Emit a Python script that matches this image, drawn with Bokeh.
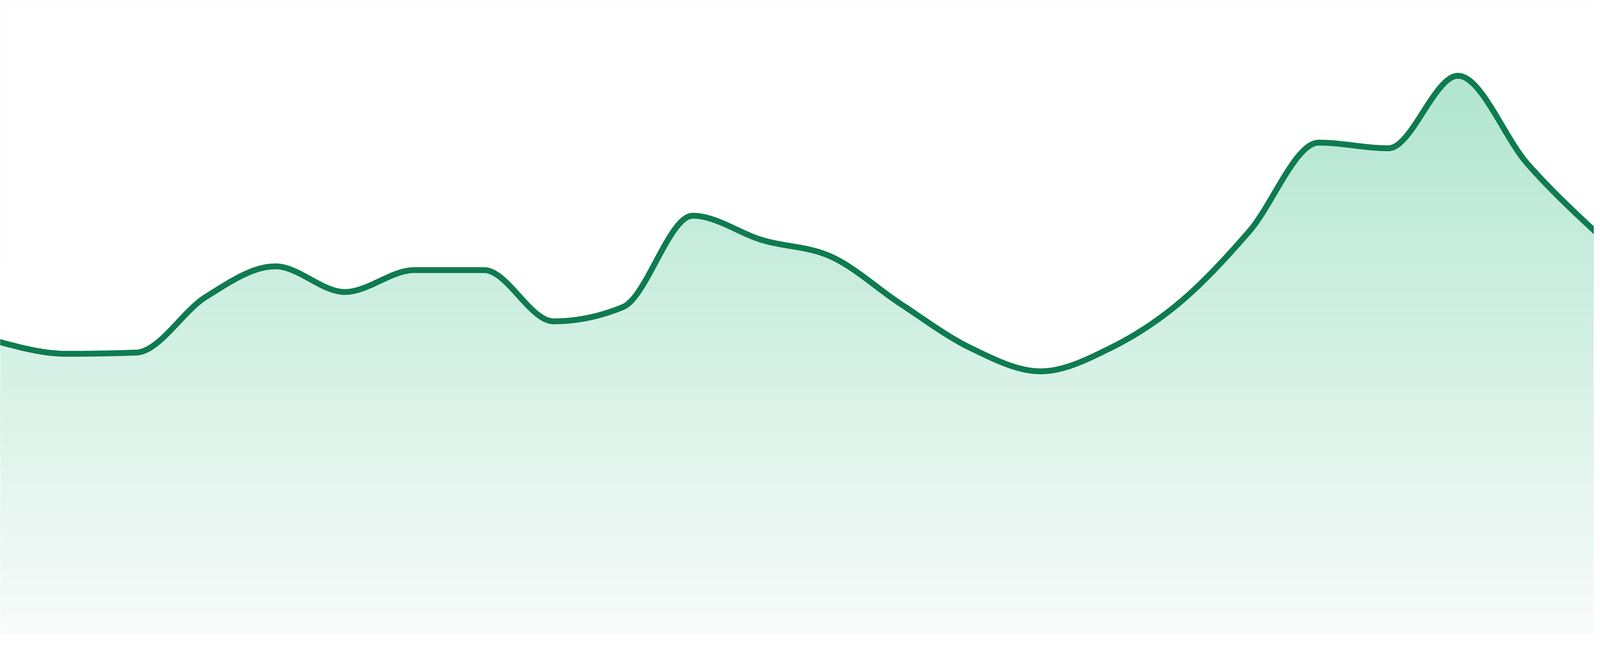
import numpy as np
from bokeh.plotting import figure
from bokeh.models import Range1d
from bokeh.embed import file_html
from bokeh.resources import INLINE

# ---- data ----
positions = list(range(24))
values = [46.9, 44.9, 45.1, 54.0, 58.9, 54.8, 58.3, 58.3, 50.1, 52.4, 67.0, 63.1,
          60.4, 52.8, 45.8, 42.1, 45.8, 53.1, 64.5, 78.7, 77.8, 89.4, 75.3, 64.2]

LINE_COLOR = "#0f7b50"
GRAD_TOP = (176, 229, 208)
GRAD_BOTTOM = (248, 251, 250)


def monotone_x(xs, ys, n=60):
    """d3.curveMonotoneX style cubic interpolation, sampled for drawing."""
    xs = np.asarray(xs, float)
    ys = np.asarray(ys, float)
    m = len(xs)
    h = np.diff(xs)
    s = np.diff(ys) / h
    t = np.zeros(m)
    for i in range(1, m - 1):
        h0, h1 = h[i - 1], h[i]
        s0, s1 = s[i - 1], s[i]
        pp = (s0 * h1 + s1 * h0) / (h0 + h1)
        sg = (-1 if s0 < 0 else 1) + (-1 if s1 < 0 else 1)
        t[i] = sg * min(abs(s0), abs(s1), 0.5 * abs(pp))
    t[0] = (3 * s[0] - t[1]) / 2
    t[-1] = (3 * s[-1] - t[-2]) / 2
    ox, oy = [], []
    for i in range(m - 1):
        u = np.linspace(0, 1, n, endpoint=(i == m - 2))
        h00 = 2 * u**3 - 3 * u**2 + 1
        h10 = u**3 - 2 * u**2 + u
        h01 = -2 * u**3 + 3 * u**2
        h11 = u**3 - u**2
        ox.extend(xs[i] + u * h[i])
        oy.extend(h00 * ys[i] + h10 * h[i] * t[i] + h01 * ys[i + 1] + h11 * h[i] * t[i + 1])
    return np.array(ox), np.array(oy)


cx, cy = monotone_x(positions, values)

# the captured viewport is ~4096 px wide; fill it (8 px page margin each side)
VIEW_W = 4096
W, H = VIEW_W - 16, 1664
n_int = len(positions) - 1
x0 = positions[0] + 8 * n_int / VIEW_W
x1 = positions[0] + (VIEW_W - 8) * n_int / VIEW_W
y_lo, y_hi = -2.5, 101.5

p = figure(width=W, height=H, output_backend="svg", toolbar_location=None,
           x_range=Range1d(x0, x1), y_range=Range1d(y_lo, y_hi),
           x_axis_location=None, y_axis_location=None,
           min_border=0, outline_line_color=None)
p.grid.visible = False
p.background_fill_color = "white"
p.border_fill_color = "white"

# vertical gradient under the curve (bands), then white mask above the curve
nb = 220
edges = np.linspace(0, y_hi, nb + 1)
mids = (edges[:-1] + edges[1:]) / 2
ypix = 1632 - 16 * mids
f = np.clip((ypix - 200) / (1632 - 200), 0, 1)
cols = []
for fi in f:
    r = GRAD_TOP[0] + (GRAD_BOTTOM[0] - GRAD_TOP[0]) * fi
    g = GRAD_TOP[1] + (GRAD_BOTTOM[1] - GRAD_TOP[1]) * fi
    b = GRAD_TOP[2] + (GRAD_BOTTOM[2] - GRAD_TOP[2]) * fi
    cols.append("#%02x%02x%02x" % (int(round(r)), int(round(g)), int(round(b))))

p.quad(left=positions[0], right=positions[-1], bottom=edges[:-1], top=edges[1:] + 0.02,
       fill_color=cols, line_color=None)
p.varea(x=cx, y1=cy, y2=y_hi + 5, fill_color="white")
p.line(cx, cy, line_color=LINE_COLOR, line_width=15, line_join="round", line_cap="round")

open("out.html", "w").write(file_html(p, INLINE))
